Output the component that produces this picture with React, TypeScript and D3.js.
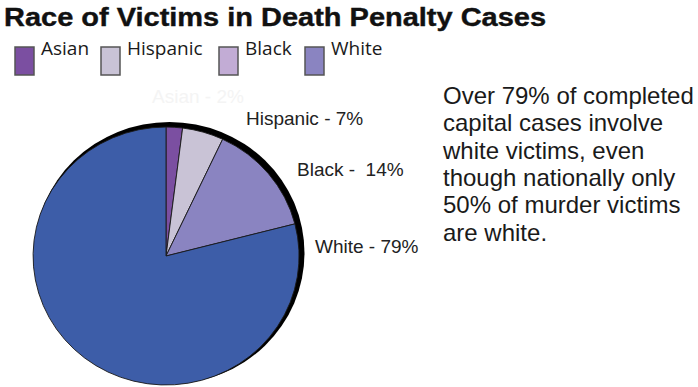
import React from "react";
import * as d3 from "d3";

const categories = ["Asian", "Hispanic", "Black", "White"];
const values = [2, 5, 14, 79];
const sliceLabels = ["Asian - 2%", "Hispanic - 7%", "Black -  14%", "White - 79%"];
const sliceColors = ["#7b4fa1", "#c9c3d6", "#8a84c1", "#3d5da8"];
const legendColors = ["#7b4fa1", "#c9c3d6", "#c2acd5", "#8a84c1"];
const labelColors = ["#f4f4f4", "#222", "#222", "#222"];
const title = "Race of Victims in Death Penalty Cases";
const noteLines = [
  "Over 79% of completed",
  "capital cases involve",
  "white victims, even",
  "though nationally only",
  "50% of murder victims",
  "are white.",
];

// layout constants
const legendX = [15, 101, 219, 305];
const labelPos = [
  [152, 103],
  [246, 125],
  [297, 176],
  [315, 253],
];

export default function App() {
  const W = 698;
  const H = 387;
  const cx = 166;
  const cy = 256;
  const rx = 133;
  const ry = 129;

  const pie = d3
    .pie<number>()
    .sort(null)
    .value((d) => d)
    .startAngle(0)
    .endAngle(2 * Math.PI);
  const arcs = pie(values);
  const arc = d3.arc<d3.PieArcDatum<number>>().innerRadius(0).outerRadius(1);

  return (
    <svg
      width={W}
      height={H}
      style={{ position: "absolute", left: 0, top: 0, background: "#fff" }}
    >
      <text
        x={4}
        y={26}
        fontFamily="Liberation Sans, Arial, sans-serif"
        fontWeight="bold"
        fontSize={26}
        textLength={542}
        lengthAdjust="spacingAndGlyphs"
        fill="#111"
        stroke="#111"
        strokeWidth={0.4}
      >
        {title}
      </text>

      {categories.map((c, i) => (
        <g key={c}>
          <rect
            x={legendX[i]}
            y={47}
            width={19}
            height={28}
            fill={legendColors[i]}
            stroke="#555"
            strokeWidth={1.5}
          />
          <text
            x={legendX[i] + 26}
            y={55}
            fontFamily="Open Sans, Noto Sans, sans-serif"
            fontSize={19}
            fill="#1a1a1a"
          >
            {c}
          </text>
        </g>
      ))}

      {/* shadow */}
      <ellipse cx={cx + 3.5} cy={cy - 3} rx={rx + 2} ry={ry + 2} fill="#000" />
      <g transform={`translate(${cx},${cy}) scale(${rx},${ry})`}>
        {arcs.map((a, i) => (
          <path
            key={categories[i]}
            d={arc(a) || ""}
            fill={sliceColors[i]}
            stroke="#1a1a1a"
            strokeWidth={0.9}
            vectorEffect="non-scaling-stroke"
            strokeLinejoin="round"
          />
        ))}
      </g>

      {sliceLabels.map((l, i) => (
        <text
          key={l}
          x={labelPos[i][0]}
          y={labelPos[i][1]}
          fontFamily="Liberation Sans, Arial, sans-serif"
          fontSize={19}
          fill={labelColors[i]}
          style={{ whiteSpace: "pre" }}
        >
          {l}
        </text>
      ))}

      {noteLines.map((l, i) => (
        <text
          key={l}
          x={443}
          y={104 + i * 27.3}
          fontFamily="Liberation Sans, Arial, sans-serif"
          fontSize={24}
          fill="#1a1a1a"
        >
          {l}
        </text>
      ))}
    </svg>
  );
}
